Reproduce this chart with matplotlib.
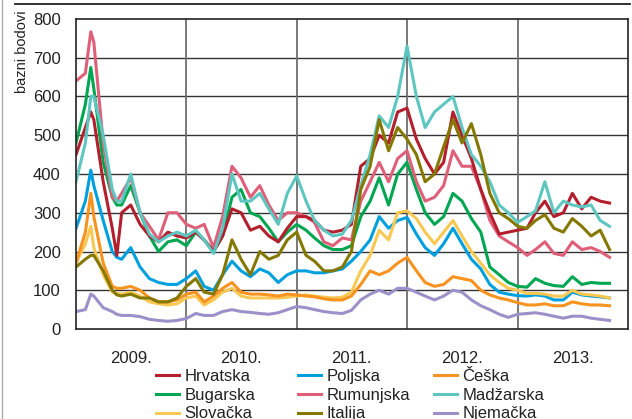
import matplotlib
matplotlib.use("Agg")
import matplotlib.pyplot as plt
import matplotlib.dates as mdates
from matplotlib.lines import Line2D
import pandas as pd

# monthly readings (first of month) plus two extra points in early 2009
dates = list(pd.date_range("2009-01-01", "2013-11-01", freq="MS"))
dates.insert(2, pd.Timestamp("2009-02-19"))
dates.insert(6, pd.Timestamp("2009-05-16"))

hrvatska = [450, 520, 560, 540, 380, 260, 190, 300, 320, 270, 240, 225, 250, 240,
            235, 250, 230, 200, 240, 310, 300, 255, 265, 240, 225, 260,
            290, 290, 280, 255, 250, 255, 270, 420, 440, 500, 480, 560,
            570, 490, 440, 400, 430, 560, 500, 440, 360, 300, 245, 250,
            255, 260, 300, 330, 290, 300, 350, 310, 340, 330, 325]
bugarska = [480, 580, 675, 620, 430, 340, 320, 320, 370, 300, 240, 200, 225, 230,
            215, 250, 230, 200, 240, 340, 360, 300, 290, 260, 225, 250,
            270, 255, 235, 215, 205, 205, 215, 290, 330, 390, 320, 400,
            430, 360, 300, 270, 290, 350, 330, 285, 250, 160, 140, 120,
            110, 108, 130, 118, 112, 110, 135, 115, 120, 118, 118]
slovacka = [170, 220, 265, 210, 140, 95, 92, 90, 95, 85, 70, 65, 62, 65,
            80, 85, 62, 75, 95, 105, 85, 80, 80, 80, 80, 82,
            85, 88, 85, 82, 80, 82, 95, 150, 190, 255, 230, 300,
            305, 285, 250, 220, 250, 280, 240, 200, 170, 140, 120, 105,
            100, 92, 92, 90, 85, 85, 100, 90, 88, 85, 80]
poljska = [260, 330, 410, 370, 280, 200, 185, 180, 210, 160, 130, 120, 115, 115,
           130, 150, 110, 100, 140, 175, 150, 135, 155, 145, 120, 140,
           150, 150, 145, 145, 150, 155, 175, 200, 230, 290, 260, 280,
           288, 245, 210, 190, 220, 260, 220, 180, 155, 115, 95, 90,
           86, 85, 88, 85, 75, 75, 95, 88, 85, 83, 80]
rumunjska = [640, 660, 767, 740, 480, 340, 330, 350, 390, 300, 265, 230, 300, 300,
             270, 260, 270, 210, 290, 420, 390, 340, 370, 320, 280, 300,
             300, 290, 275, 225, 215, 235, 230, 330, 380, 430, 380, 440,
             460, 380, 330, 340, 370, 460, 420, 420, 360, 280, 240, 225,
             210, 190, 205, 225, 195, 190, 225, 205, 210, 200, 185]
italija = [160, 180, 190, 190, 150, 100, 88, 85, 90, 80, 80, 70, 70, 80,
           110, 130, 95, 90, 140, 230, 180, 140, 200, 180, 190, 230,
           250, 190, 175, 150, 150, 160, 200, 360, 420, 540, 460, 520,
           490, 450, 380, 400, 470, 540, 480, 530, 450, 350, 300, 285,
           265, 260, 280, 295, 260, 250, 285, 265, 240, 255, 205]
ceska = [170, 250, 350, 290, 170, 110, 105, 105, 110, 100, 80, 70, 70, 75,
         90, 95, 70, 85, 105, 120, 95, 90, 90, 88, 85, 90,
         88, 85, 83, 78, 75, 75, 85, 115, 150, 140, 150, 170,
         185, 150, 120, 110, 115, 135, 130, 125, 100, 88, 80, 75,
         68, 62, 62, 65, 60, 60, 70, 65, 62, 62, 60]
madzarska = [380, 480, 600, 600, 500, 360, 330, 330, 400, 300, 245, 225, 240, 250,
             240, 255, 230, 195, 260, 400, 330, 330, 350, 310, 270, 350,
             395, 330, 280, 255, 240, 245, 280, 370, 450, 550, 520, 600,
             730, 600, 520, 560, 580, 600, 520, 450, 420, 380, 320, 300,
             275, 290, 305, 380, 300, 330, 320, 315, 320, 280, 265]
njemacka = [45, 50, 90, 85, 55, 45, 38, 35, 35, 32, 25, 22, 20, 22,
            27, 40, 35, 35, 45, 50, 45, 43, 40, 38, 42, 50,
            58, 55, 50, 45, 42, 40, 48, 75, 90, 100, 90, 105,
            105, 95, 85, 75, 85, 100, 95, 75, 60, 50, 38, 30,
            38, 40, 42, 38, 33, 28, 33, 33, 28, 25, 22]

years = ["2009.", "2010.", "2011.", "2012.", "2013."]

series = {
    "Hrvatska": (hrvatska, "#b31f2d"),
    "Bugarska": (bugarska, "#00a651"),
    "Slovačka": (slovacka, "#f8c852"),
    "Poljska": (poljska, "#00a0de"),
    "Rumunjska": (rumunjska, "#df5f79"),
    "Italija": (italija, "#857800"),
    "Češka": (ceska, "#f7931e"),
    "Madžarska": (madzarska, "#5ec6c1"),
    "Njemačka": (njemacka, "#9d90c8"),
}
draw_order = ["Poljska", "Slovačka", "Češka", "Njemačka", "Bugarska",
              "Rumunjska", "Hrvatska", "Madžarska", "Italija"]
legend_cols = [["Hrvatska", "Bugarska", "Slovačka"],
               ["Poljska", "Rumunjska", "Italija"],
               ["Češka", "Madžarska", "Njemačka"]]

plt.rcParams["font.family"] = ["Liberation Sans Narrow", "Liberation Sans", "DejaVu Sans"]

W, H = 632, 419
fig = plt.figure(figsize=(W / 100, H / 100), dpi=100)
ax = fig.add_axes([76 / W, 1 - 329 / H, 552 / W, 310 / H])

for name in draw_order:
    vals, col = series[name]
    ax.plot(dates, vals, color=col, lw=2.2, solid_joinstyle="round")

ax.set_ylim(0, 800)
ax.set_yticks(range(0, 801, 100))
ax.set_xlim(pd.Timestamp("2009-01-01"), pd.Timestamp("2014-01-01"))

bounds = [pd.Timestamp(f"{y}-01-01") for y in range(2010, 2014)]
mids = [pd.Timestamp(f"{y}-07-02") for y in range(2009, 2014)]
ax.set_xticks(mdates.date2num(bounds))
ax.set_xticklabels([])
ax.set_xticks(mdates.date2num(mids), minor=True)
ax.set_xticklabels(years, minor=True)

ax.tick_params(axis="both", which="both", length=0, labelsize=12, colors="#222222")
ax.tick_params(axis="y", pad=11)
ax.tick_params(axis="x", which="minor", pad=16)

for v in range(100, 800, 100):
    ax.axhline(v, color="#333333", lw=1.0, zorder=0)
for b in bounds:
    ax.axvline(b, color="#6e6e6e", lw=1.3, zorder=0)

for s in ax.spines.values():
    s.set_color("#222222")
    s.set_linewidth(1.2)

fig.text(22 / W, 1 - 10 / H, "bazni bodovi", rotation=90, ha="center", va="top",
         fontsize=10.5, color="#222222")

# decorative frame lines
fig.add_artist(Line2D([15 / W, 630 / W], [1 - 4 / H, 1 - 4 / H], color="#222222", lw=1.3))
fig.add_artist(Line2D([2 / W, 2 / W], [0, 1], color="#aaaaaa", lw=1.0))

xs = [156, 298, 434]
for x0, names in zip(xs, legend_cols):
    handles = [Line2D([], [], color=series[n][1], lw=2.2) for n in names]
    leg = fig.legend(handles, names, loc="upper left",
                     bbox_to_anchor=(x0 / W, 1 - 369 / H), frameon=False,
                     fontsize=12, handlelength=1.35, handletextpad=0.35,
                     labelspacing=0.22, borderpad=0, borderaxespad=0)
    for t in leg.get_texts():
        t.set_color("#222222")

fig.savefig("out.png", dpi=100)
